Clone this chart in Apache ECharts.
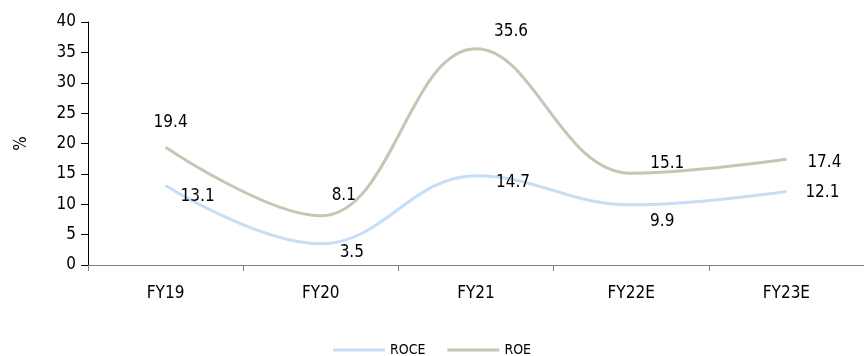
<!DOCTYPE html>
<html><head><meta charset="utf-8">
<script src="https://cdn.jsdelivr.net/npm/echarts@6/dist/echarts.min.js"></script>
<style>html,body{margin:0;padding:0;background:#fff}#c{width:864px;height:356px}</style>
</head><body><div id="c"></div>
<script>
const categories = ['FY19','FY20','FY21','FY22E','FY23E'];
const roce = [13.1, 3.5, 14.7, 9.9, 12.1];
const roe = [19.4, 8.1, 35.6, 15.1, 17.4];
const yTicks = [0,5,10,15,20,25,30,35,40];

const FONT = "'Liberation Sans Narrow', 'DejaVu Sans Condensed', 'Liberation Sans', sans-serif";
const roceLabelOffsets = [[32,11],[31,9],[37,7],[31,17],[36,1]];
const roeLabelOffsets = [[5,-25],[23,-20],[35,-17],[36,-10],[38,3]];

const chart = echarts.init(document.getElementById('c'));
chart.setOption({
  animation:false,
  textStyle:{fontFamily:FONT},
  grid:{left:88,right:-6,top:22,bottom:91,containLabel:false},
  legend:{
    top:338,left:'center',
    icon:'rect',itemWidth:52,itemHeight:3,itemGap:22,
    textStyle:{fontFamily:FONT,fontSize:14,color:'#000'},
    data:['ROCE','ROE']
  },
  xAxis:{
    type:'category',data:categories,boundaryGap:true,
    axisLine:{lineStyle:{color:'#808080',width:1}},
    axisTick:{show:true,alignWithLabel:false,length:6,lineStyle:{color:'#808080'}},
    axisLabel:{color:'#000',fontSize:17,margin:20,fontFamily:FONT}
  },
  yAxis:{
    type:'value',min:0,max:40,interval:5,
    name:'%',nameLocation:'middle',nameGap:58,nameRotate:90,
    nameTextStyle:{color:'#000',fontSize:17,fontFamily:FONT},
    splitLine:{show:false},
    axisLine:{show:true,lineStyle:{color:'#000',width:1}},
    axisTick:{show:true,length:7,lineStyle:{color:'#000'}},
    axisLabel:{color:'#000',fontSize:17,margin:12,fontFamily:FONT,
      formatter:v=>yTicks.includes(v)?String(v):''}
  },
  series:[
    {name:'ROCE',type:'line',smooth:0.4,symbol:'circle',symbolSize:1,showSymbol:true,
     lineStyle:{color:'#c7def6',width:3},itemStyle:{color:'#c7def6'},
     data:roce.map((v,i)=>({value:v,label:{show:true,position:'inside',offset:roceLabelOffsets[i]}})),
     label:{show:true,color:'#000',fontSize:17,fontFamily:FONT}
    },
    {name:'ROE',type:'line',smooth:0.4,symbol:'circle',symbolSize:1,showSymbol:true,
     lineStyle:{color:'#c9c5b5',width:3},itemStyle:{color:'#c9c5b5'},
     data:roe.map((v,i)=>({value:v,label:{show:true,position:'inside',offset:roeLabelOffsets[i]}})),
     label:{show:true,color:'#000',fontSize:17,fontFamily:FONT}
    }
  ]
});
</script></body></html>
